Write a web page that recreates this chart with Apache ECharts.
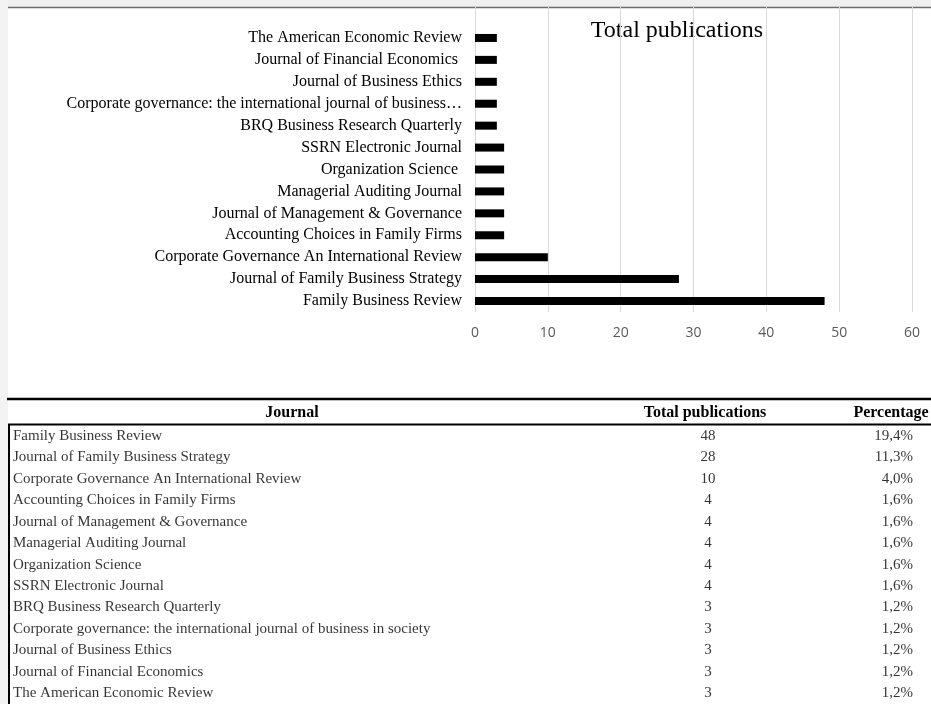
<!DOCTYPE html>
<html>
<head>
<meta charset="utf-8">
<script src="https://cdn.jsdelivr.net/npm/echarts@6/dist/echarts.min.js"></script>
<style>
html,body{margin:0;padding:0;background:#fff;}
#chart{width:931px;height:704px;}
</style>
</head>
<body>
<div id="chart"></div>
<script>
// ---- data ----
var journals = [
  'Family Business Review',
  'Journal of Family Business Strategy',
  'Corporate Governance An International Review',
  'Accounting Choices in Family Firms',
  'Journal of Management & Governance',
  'Managerial Auditing Journal',
  'Organization Science ',
  'SSRN Electronic Journal',
  'BRQ Business Research Quarterly',
  'Corporate governance: the international journal of business in society',
  'Journal of Business Ethics',
  'Journal of Financial Economics ',
  'The American Economic Review'
];
var totals = [48, 28, 10, 4, 4, 4, 4, 4, 3, 3, 3, 3, 3];
var percentages = [19.4, 11.3, 4.0, 1.6, 1.6, 1.6, 1.6, 1.6, 1.2, 1.2, 1.2, 1.2, 1.2];
var xTicks = [0, 10, 20, 30, 40, 50, 60];
var chartTitle = 'Total publications';
var headers = ['Journal', 'Total publications', 'Percentage'];

// ---- layout constants ----
var SERIF = '"Liberation Serif", "Times New Roman", serif';
var colName = 13, colTotal = 708, colPct = 913;

function fmtPct(v) { return v.toFixed(1).replace('.', ',') + '%'; }

var chart = echarts.init(document.getElementById('chart'), null, {renderer: 'canvas'});

var option = {
  animation: false,
  backgroundColor: '#ffffff',
  grid: [
    {left: 475, right: 19, top: 27, bottom: 392},       // bars
    {left: 475, right: 19, top: 7, bottom: 392},        // gridlines + x labels
    {left: 0, right: 0, top: 425.25, bottom: -0.75}     // table body
  ],
  xAxis: [
    {gridIndex: 0, type: 'value', min: xTicks[0], max: xTicks[xTicks.length - 1], interval: 10, show: false},
    {gridIndex: 1, type: 'value', min: xTicks[0], max: xTicks[xTicks.length - 1], interval: 10,
      axisLine: {show: false}, axisTick: {show: false},
      splitLine: {show: true, lineStyle: {color: '#d9d9d9', width: 1}},
      axisLabel: {color: '#595959', fontFamily: '"Open Sans", sans-serif', fontSize: 14, margin: 14}},
    {gridIndex: 2, type: 'value', min: 0, max: 931, show: false}
  ],
  yAxis: [
    {gridIndex: 0, type: 'category', data: journals,
      axisLine: {show: false}, axisTick: {show: false}, splitLine: {show: false},
      axisLabel: {color: '#000', fontFamily: SERIF, fontSize: 16, margin: 13,
        width: 398, overflow: 'truncate', ellipsis: '…'}},
    {gridIndex: 1, type: 'value', show: false},
    {gridIndex: 2, type: 'category', data: journals, inverse: true, show: false}
  ],
  title: {show: false},
  graphic: [
    // window chrome
    {type: 'rect', shape: {x: 0, y: 0, width: 931, height: 7}, style: {fill: '#efefef'}, silent: true},
    {type: 'rect', shape: {x: 0, y: 0, width: 8, height: 704}, style: {fill: '#f3f3f3'}, silent: true},
    {type: 'line', shape: {x1: 8, y1: 7.5, x2: 931, y2: 7.5}, style: {stroke: '#6b6b6b', lineWidth: 1.5}, silent: true},
    // chart title
    {type: 'text', x: 677, y: 31, silent: true,
      style: {text: chartTitle, fontFamily: SERIF, fontSize: 24, fill: '#000', align: 'center', verticalAlign: 'middle'}},
    // table lines
    {type: 'line', shape: {x1: 7, y1: 399, x2: 931, y2: 399}, style: {stroke: '#000', lineWidth: 2.5}, silent: true},
    {type: 'line', shape: {x1: 8, y1: 424.5, x2: 931, y2: 424.5}, style: {stroke: '#000', lineWidth: 2}, silent: true},
    {type: 'line', shape: {x1: 9, y1: 424, x2: 9, y2: 704}, style: {stroke: '#000', lineWidth: 2}, silent: true},
    // table headers
    {type: 'text', x: 292, y: 413, silent: true,
      style: {text: headers[0], fontFamily: SERIF, fontWeight: 'bold', fontSize: 16, fill: '#000', align: 'center', verticalAlign: 'middle'}},
    {type: 'text', x: 705, y: 413, silent: true,
      style: {text: headers[1], fontFamily: SERIF, fontWeight: 'bold', fontSize: 16, fill: '#000', align: 'center', verticalAlign: 'middle'}},
    {type: 'text', x: 891, y: 413, silent: true,
      style: {text: headers[2], fontFamily: SERIF, fontWeight: 'bold', fontSize: 16, fill: '#000', align: 'center', verticalAlign: 'middle'}}
  ],
  series: [
    {type: 'bar', xAxisIndex: 0, yAxisIndex: 0, data: totals, barWidth: 8,
      itemStyle: {color: '#000'}, silent: true},
    {type: 'scatter', xAxisIndex: 2, yAxisIndex: 2, symbolSize: 0, silent: true,
      data: journals.map(function (j, i) { return [colName, i]; }),
      label: {show: true, position: 'right', distance: 0, color: '#000', fontFamily: SERIF, fontSize: 15,
        formatter: function (p) { return journals[p.dataIndex].trim(); }}},
    {type: 'scatter', xAxisIndex: 2, yAxisIndex: 2, symbolSize: 0, silent: true,
      data: totals.map(function (t, i) { return [colTotal, i]; }),
      label: {show: true, position: 'inside', color: '#000', fontFamily: SERIF, fontSize: 15,
        formatter: function (p) { return String(totals[p.dataIndex]); }}},
    {type: 'scatter', xAxisIndex: 2, yAxisIndex: 2, symbolSize: 0, silent: true,
      data: percentages.map(function (v, i) { return [colPct, i]; }),
      label: {show: true, position: 'left', distance: 0, color: '#000', fontFamily: SERIF, fontSize: 15,
        formatter: function (p) { return fmtPct(percentages[p.dataIndex]); }}}
  ]
};
chart.setOption(option);
</script>
</body>
</html>
